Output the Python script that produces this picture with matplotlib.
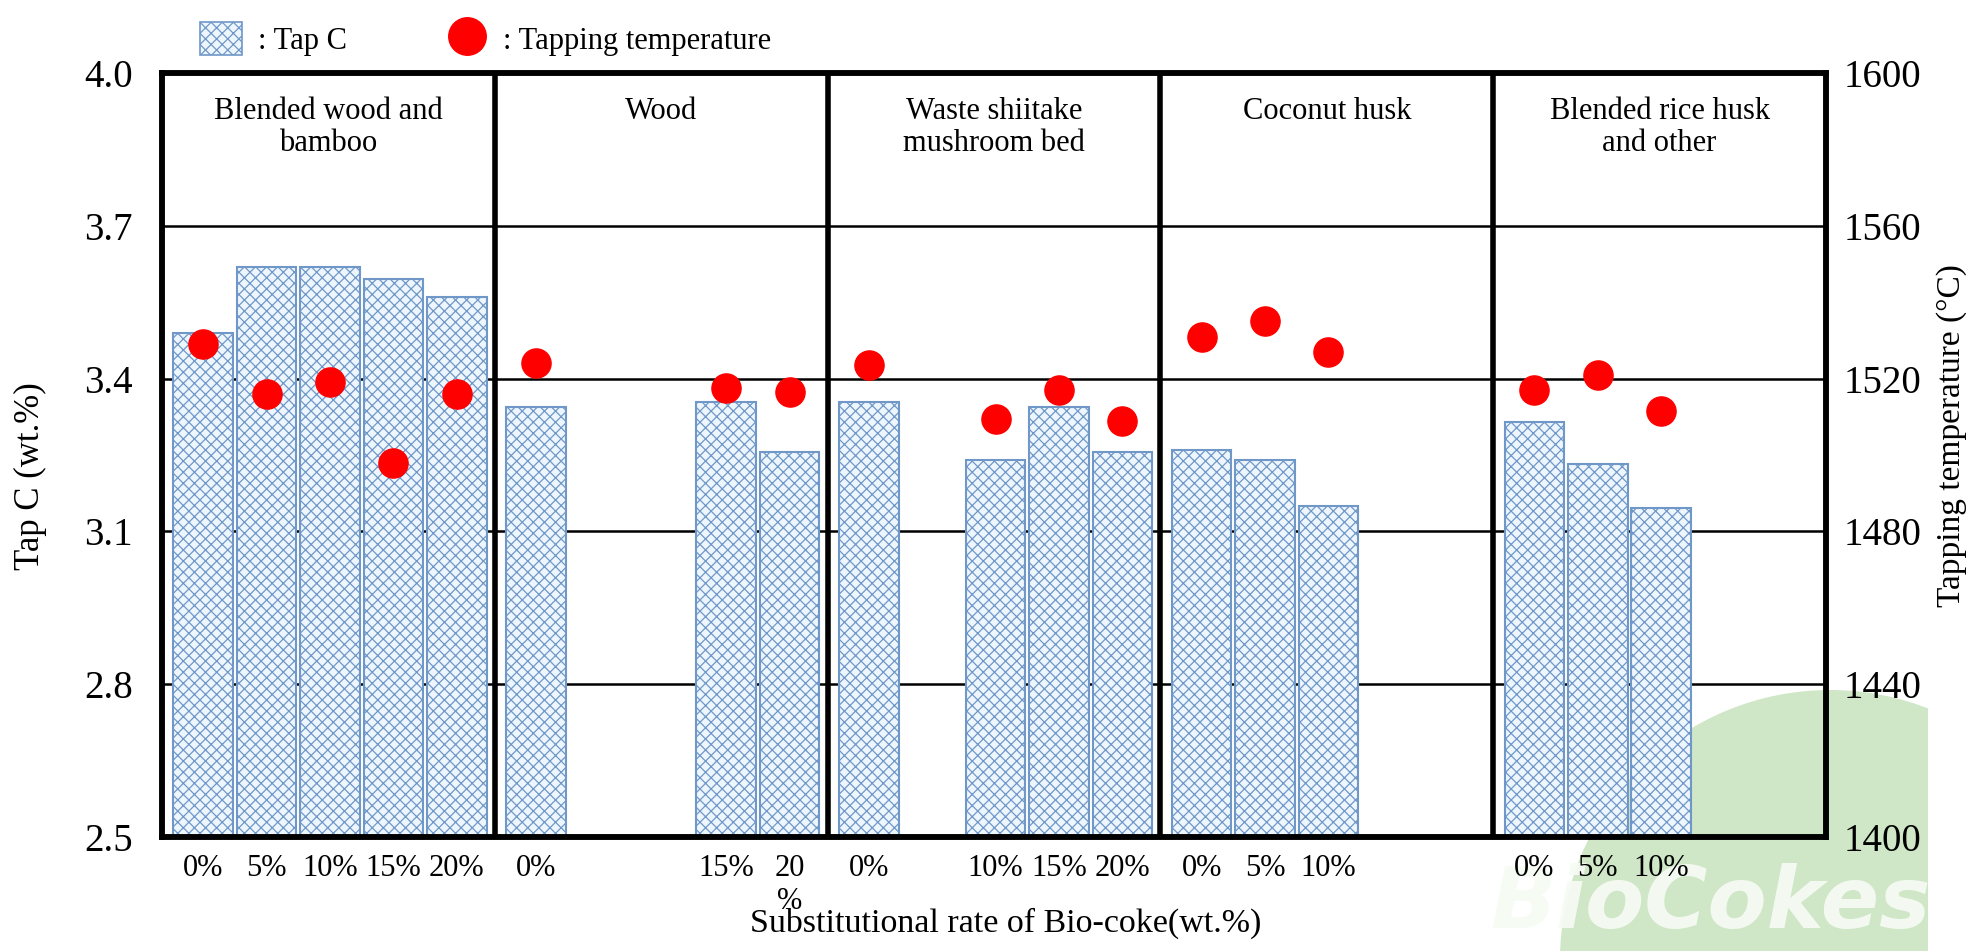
import matplotlib
matplotlib.use("Agg")
import matplotlib.pyplot as plt
from matplotlib.patches import Patch, Ellipse
from matplotlib.lines import Line2D
from matplotlib.transforms import Bbox, TransformedBbox
import numpy as np

plt.rcParams['font.family'] = ['Liberation Serif', 'DejaVu Serif']
plt.rcParams['hatch.linewidth'] = 0.9

# ---------- data ----------
groups = ["Blended wood and\nbamboo", "Wood", "Waste shiitake\nmushroom bed",
          "Coconut husk", "Blended rice husk\nand other"]
rates = [[0, 5, 10, 15, 20], [0, 15, 20], [0, 10, 15, 20], [0, 5, 10], [0, 5, 10]]
tap_c = [[3.49, 3.62, 3.62, 3.595, 3.56],
         [3.345, 3.355, 3.255],
         [3.355, 3.24, 3.345, 3.255],
         [3.26, 3.24, 3.15],
         [3.315, 3.233, 3.145]]
temp = [[1529, 1516, 1519, 1498, 1516],
        [1524, 1517.5, 1516.5],
        [1523.5, 1509.5, 1517, 1509],
        [1531, 1535, 1527],
        [1517, 1521, 1511.5]]
tick_labels = [["0%", "5%", "10%", "15%", "20%"],
               ["0%", "15%", "20\n%"],
               ["0%", "10%", "15%", "20%"],
               ["0%", "5%", "10%"],
               ["0%", "5%", "10%"]]

gw = 5.25   # width of one group in slots
off = 0.65  # first slot centre inside a group

fig = plt.figure(figsize=(19.8, 9.51), dpi=100)

# watermark behind everything
ell = Ellipse((1830 / 1980, 1 - 960 / 951), 540 / 1980, 540 / 951,
              transform=fig.transFigure, facecolor='#cfe7c6', edgecolor='none', zorder=-2)
ell.set_clip_box(TransformedBbox(Bbox([[0, 0], [1928 / 1980, 1]]), fig.transFigure))
fig.add_artist(ell)
fig.text(1490 / 1980, 1 - 928 / 951, "BioCokes", family='DejaVu Sans', fontsize=62,
         fontweight='bold', style='italic', color='#f6fbf4', alpha=0.95,
         ha='left', va='baseline', zorder=-1)

ax = fig.add_axes([162 / 1980, 1 - 837 / 951, (1826 - 162) / 1980, (837 - 73) / 951])
ax.patch.set_alpha(0)
ax2 = ax.twinx()

xs_all, lab_all = [], []
for g in range(len(groups)):
    xs = [g * gw + off + r / 5 for r in rates[g]]
    ax.bar(xs, np.array(tap_c[g]) - 2.5, bottom=2.5, width=0.94,
           facecolor='#eef6fd', edgecolor='#6f97c8', linewidth=1.5,
           hatch='xxx', zorder=2)
    ax2.plot(xs, temp[g], 'o', color='#ff0000', markersize=21, zorder=3)
    xs_all += xs
    lab_all += tick_labels[g]
    ax.text(g * gw + gw / 2, 0.968, groups[g], transform=ax.get_xaxis_transform(),
            ha='center', va='top', fontsize=22, linespacing=1.1, zorder=4)
    if g > 0:
        ax.axvline(g * gw, color='black', linewidth=4, zorder=4)

ax.set_xlim(0, gw * len(groups))
ax.set_ylim(2.5, 4.0)
ax.set_yticks([2.5, 2.8, 3.1, 3.4, 3.7, 4.0])
ax.set_yticklabels(["2.5", "2.8", "3.1", "3.4", "3.7", "4.0"])
ax.set_xticks(xs_all, lab_all)
ax.yaxis.grid(True, color='black', linewidth=1.8, zorder=1)
ax.set_axisbelow(True)

ax2.set_ylim(1400, 1600)
ax2.set_yticks(range(1400, 1601, 40))

ax.tick_params(axis='y', length=0, labelsize=28, pad=21)
ax.tick_params(axis='x', length=0, labelsize=22, pad=12)
ax2.tick_params(axis='y', length=0, labelsize=28, pad=13)
for a in (ax, ax2):
    for s in a.spines.values():
        s.set_linewidth(4)

ax.set_ylabel("Tap C (wt.%)", fontsize=25)
ax.yaxis.set_label_coords(-0.069, 0.4725)
ax2.set_ylabel("Tapping temperature (°C)", fontsize=24)
ax2.yaxis.set_label_coords(1.066, 0.525)
ax.set_xlabel("Substitutional rate of Bio-coke(wt.%)", fontsize=24.5)
ax.xaxis.set_label_coords(0.507, -0.092)

handles = [Patch(facecolor='#eef6fd', edgecolor='#6f97c8', hatch='xxx', linewidth=1.2),
           Line2D([], [], marker='o', linestyle='none', color='#ff0000', markersize=27)]
ax.legend(handles, [": Tap C", ": Tapping temperature"], loc='center left',
          bbox_to_anchor=(185 / 1980, 1 - 39 / 951), bbox_transform=fig.transFigure,
          ncol=2, frameon=False, fontsize=22, borderpad=0, handlelength=1.38,
          handleheight=1.25, handletextpad=0.5, columnspacing=3.25)

fig.savefig("out.png", dpi=100)
